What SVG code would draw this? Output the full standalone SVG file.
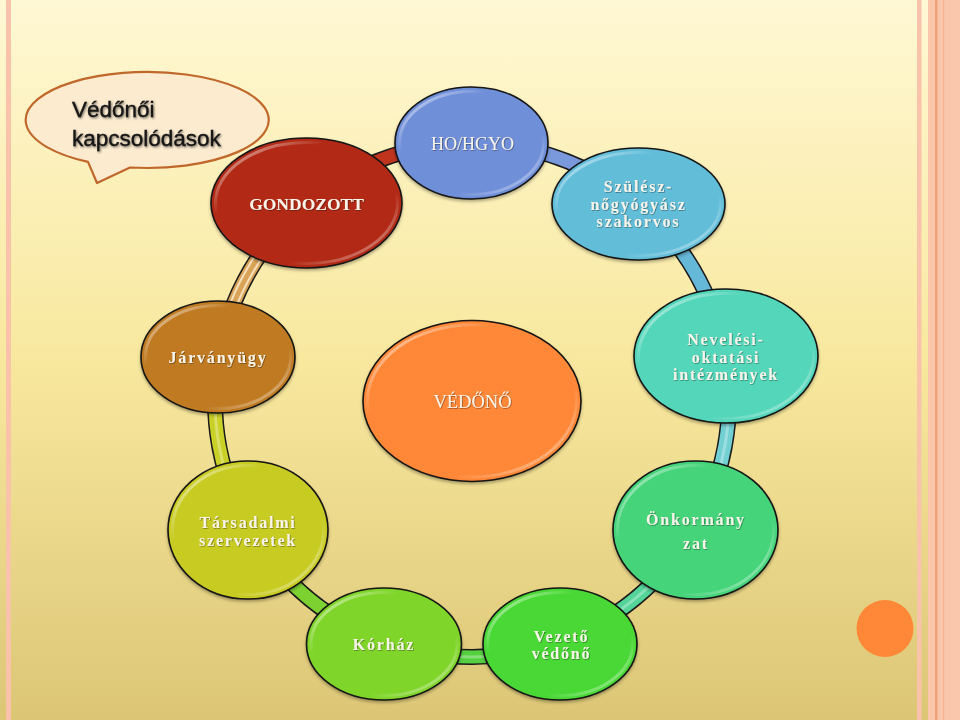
<svg xmlns="http://www.w3.org/2000/svg" width="960" height="720" viewBox="0 0 960 720">
<defs>
<linearGradient id="bg" x1="0" y1="0" x2="0" y2="1">
<stop offset="0" stop-color="#FFF8D4"/>
<stop offset="0.5" stop-color="#F8E89E"/>
<stop offset="1" stop-color="#DCC676"/>
</linearGradient>
<linearGradient id="gloss" x1="0" y1="0" x2="1" y2="1">
<stop offset="0" stop-color="#FFFFFF" stop-opacity="0.75"/>
<stop offset="0.3" stop-color="#FFFFFF" stop-opacity="0"/>
<stop offset="0.7" stop-color="#FFFFFF" stop-opacity="0"/>
<stop offset="1" stop-color="#FFFFFF" stop-opacity="0.6"/>
</linearGradient>
<filter id="sh" x="-10%" y="-10%" width="120%" height="130%">
<feDropShadow dx="0" dy="2" stdDeviation="1.5" flood-color="#000" flood-opacity="0.3"/>
</filter>
<filter id="tsh" x="-5%" y="-20%" width="110%" height="140%">
<feDropShadow dx="0.7" dy="0.7" stdDeviation="0.4" flood-color="#000" flood-opacity="0.45"/>
</filter>
<filter id="tsh2" x="-5%" y="-20%" width="110%" height="150%">
<feDropShadow dx="1" dy="1.2" stdDeviation="0.9" flood-color="#000" flood-opacity="0.55"/>
</filter>
</defs>
<style>
.node{stroke:#141414;stroke-width:1.6;filter:url(#sh)}
.gl{fill:none;stroke:url(#gloss);stroke-width:3}
.lbl{font-family:"Liberation Serif","Times New Roman",serif;font-weight:bold;font-size:16px;fill:#F8F4EA;text-anchor:middle;filter:url(#tsh)}
.big{font-size:17.5px}
.sp{letter-spacing:1.8px}
.ring{fill:none;stroke:#1a1a1a;stroke-width:16}
.seg{fill:none;stroke-width:13}
.str{fill:none;stroke:#FFFFFF;stroke-opacity:0.3;stroke-width:3}
.title{font-family:"Liberation Sans",Arial,sans-serif;font-size:22.5px;fill:#141414;stroke:#141414;stroke-width:0.35;filter:url(#tsh2)}
</style>
<rect width="960" height="720" fill="url(#bg)"/>
<rect x="6" y="0" width="5" height="720" fill="#F8C3AA"/>
<rect x="917" y="0" width="4.5" height="720" fill="#F8C3AA"/>
<rect x="928" y="0" width="32" height="720" fill="#FAC6AC"/>
<rect x="935" y="0" width="2.4" height="720" fill="#EFA07A"/>
<rect x="943" y="0" width="1.2" height="720" fill="#F4B596"/>

<g id="callout">
<path d="M130 167.5 A121.5 48 0 1 0 88 161.9 L97 183 Z" fill="#FCEBCF" stroke="#C0672A" stroke-width="2.2" stroke-linejoin="round"/>
<text class="title" x="72" y="116.5">Védőnői</text>
<text class="title" x="72" y="146">kapcsolódások</text>
</g>

<g id="connectors">
<circle cx="472" cy="400" r="257" class="ring"/>
<path class="seg" stroke="#C0341E" d="M306.8 203.1 A257 257 0 0 1 472 143"/>
<path class="seg" stroke="#7A98DC" d="M472 143 A257 257 0 0 1 637.2 203.1"/>
<path class="seg" stroke="#66B8D8" d="M637.2 203.1 A257 257 0 0 1 725.1 355.4"/>
<path class="seg" stroke="#72D0D2" d="M725.1 355.4 A257 257 0 0 1 694.6 528.5"/>
<path class="seg" stroke="#55D49A" d="M694.6 528.5 A257 257 0 0 1 559.9 641.5"/>
<path class="seg" stroke="#55D040" d="M559.9 641.5 A257 257 0 0 1 384.1 641.5"/>
<path class="seg" stroke="#7DD232" d="M384.1 641.5 A257 257 0 0 1 249.4 528.5"/>
<path class="seg" stroke="#C9D126" d="M249.4 528.5 A257 257 0 0 1 218.9 355.4"/>
<path class="seg" stroke="#D9A458" d="M218.9 355.4 A257 257 0 0 1 306.8 203.1"/>
<path class="str" d="M725.1 355.4 A257 257 0 0 1 694.6 528.5"/>
<path class="str" d="M694.6 528.5 A257 257 0 0 1 559.9 641.5"/>
<path class="str" d="M559.9 641.5 A257 257 0 0 1 384.1 641.5"/>
<path class="str" d="M249.4 528.5 A257 257 0 0 1 218.9 355.4" stroke-opacity="0.45"/>
<path fill="none" stroke="#FFF6E0" stroke-opacity="0.75" stroke-width="2" d="M222.4 354.8 A253.5 253.5 0 0 1 309.1 205.8"/>
<path fill="none" stroke="#FFF6E0" stroke-opacity="0.75" stroke-width="2" d="M215.5 356.0 A260.5 260.5 0 0 1 304.6 200.4"/>
</g>

<g id="node-gondozott">
<ellipse class="node" cx="306.5" cy="203" rx="95.5" ry="65" fill="#B22B18"/>
<ellipse class="gl" cx="306.5" cy="203" rx="91" ry="60.5"/>
<text class="lbl big" x="306.5" y="210">GONDOZOTT</text>
</g>
<g id="node-hohgyo">
<ellipse class="node" cx="471.5" cy="143" rx="76.5" ry="56" fill="#6F8FD9"/>
<ellipse class="gl" cx="471.5" cy="143" rx="72" ry="51.5"/>
<text class="lbl big" x="472.5" y="149.5" style="font-weight:normal;font-size:18px">HO/HGYO</text>
</g>
<g id="node-szulesz">
<ellipse class="node" cx="638.5" cy="204" rx="86.5" ry="56" fill="#62BDD9"/>
<ellipse class="gl" cx="638.5" cy="204" rx="82" ry="51.5"/>
<text class="lbl sp" x="638.5" y="192">Szülész-</text>
<text class="lbl sp" x="638.5" y="209.5">nőgyógyász</text>
<text class="lbl sp" x="638.5" y="227">szakorvos</text>
</g>
<g id="node-jarvanyugy">
<ellipse class="node" cx="218" cy="357" rx="77" ry="56" fill="#BF7A22"/>
<ellipse class="gl" cx="218" cy="357" rx="72.5" ry="51.5"/>
<text class="lbl sp" x="218" y="363">Járványügy</text>
</g>
<g id="node-vedono">
<ellipse class="node" cx="472" cy="401" rx="109" ry="80.5" fill="#FF8838"/>
<ellipse class="gl" cx="472" cy="401" rx="104.5" ry="76"/>
<text class="lbl big" x="472.5" y="408" style="font-weight:normal;font-size:18.5px">VÉDŐNŐ</text>
</g>
<g id="node-nevelesi">
<ellipse class="node" cx="726" cy="356" rx="92" ry="67" fill="#52D6B9"/>
<ellipse class="gl" cx="726" cy="356" rx="87.5" ry="62.5"/>
<text class="lbl sp" x="726" y="345">Nevelési-</text>
<text class="lbl sp" x="726" y="362.5">oktatási</text>
<text class="lbl sp" x="726" y="379.5">intézmények</text>
</g>
<g id="node-tarsadalmi">
<ellipse class="node" cx="248" cy="530" rx="80" ry="69" fill="#C8CB22"/>
<ellipse class="gl" cx="248" cy="530" rx="75.5" ry="64.5"/>
<text class="lbl sp" x="248" y="528">Társadalmi</text>
<text class="lbl sp" x="248" y="545.5">szervezetek</text>
</g>
<g id="node-onkormanyzat">
<ellipse class="node" cx="695.5" cy="530" rx="82.5" ry="69" fill="#45D47A"/>
<ellipse class="gl" cx="695.5" cy="530" rx="78" ry="64.5"/>
<text class="lbl sp" x="696" y="525">Önkormány</text>
<text class="lbl sp" x="696" y="548.5">zat</text>
</g>
<g id="node-korhaz">
<ellipse class="node" cx="384" cy="644" rx="77.5" ry="56" fill="#80D52A"/>
<ellipse class="gl" cx="384" cy="644" rx="73" ry="51.5"/>
<text class="lbl sp" x="384" y="650">Kórház</text>
</g>
<g id="node-vezeto">
<ellipse class="node" cx="560" cy="644" rx="77" ry="56" fill="#4AD835"/>
<ellipse class="gl" cx="560" cy="644" rx="72.5" ry="51.5"/>
<text class="lbl sp" x="561.5" y="641.5">Vezető</text>
<text class="lbl sp" x="561.5" y="659">védőnő</text>
</g>

<circle cx="885" cy="628.5" r="28.5" fill="#FF8838"/>
</svg>
